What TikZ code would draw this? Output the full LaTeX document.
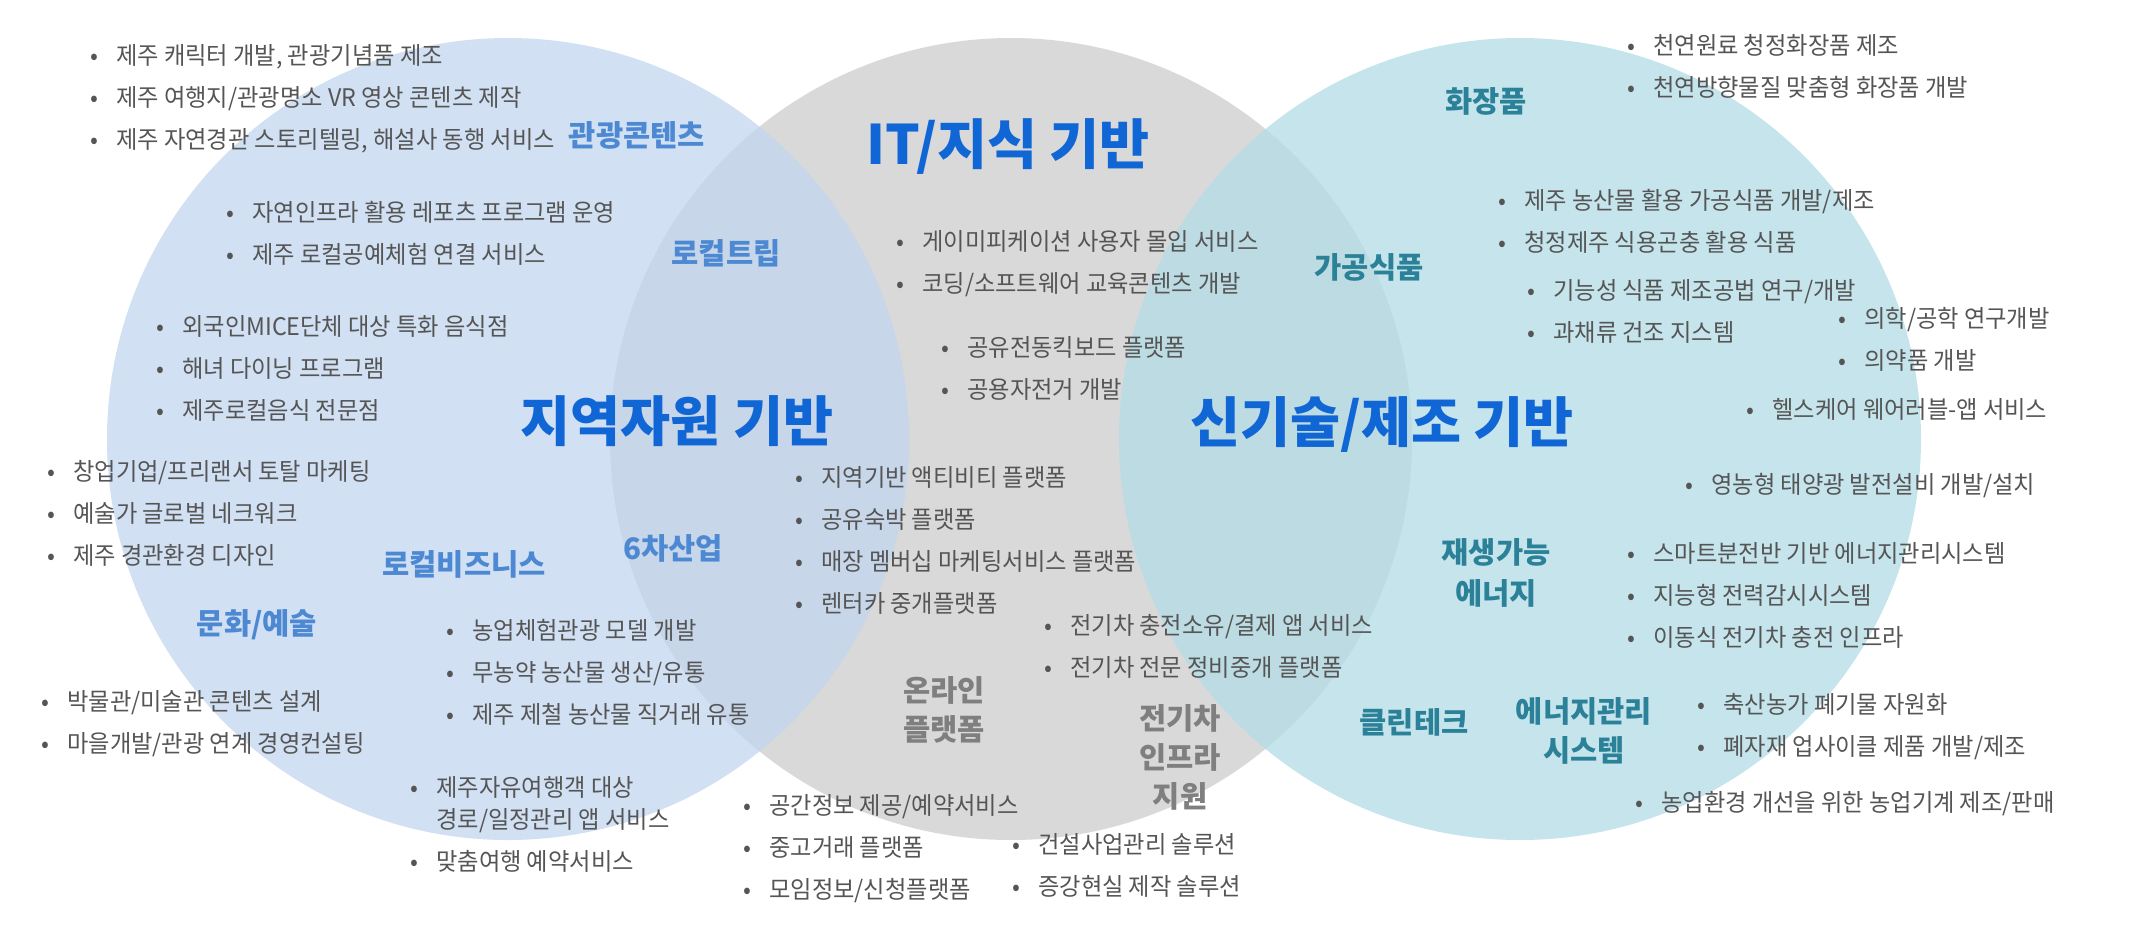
\documentclass[tikz,border=0pt]{standalone}
\usepackage{fontspec}
\setmainfont{Noto Sans CJK KR}
\newfontfamily\krc{Noto Sans CJK KR}[FakeStretch=0.96]
\usepackage{tikz}

\definecolor{ttlblue}{HTML}{1166D6}
\definecolor{subblue}{HTML}{4D88D3}
\definecolor{subgray}{HTML}{7F7F7F}
\definecolor{subteal}{HTML}{2B8197}
\definecolor{txtgray}{HTML}{555555}
\definecolor{leftblue}{HTML}{C2D6EF}
\definecolor{midgray}{HTML}{D9D9D9}
\definecolor{rightteal}{HTML}{B3DCE6}

\newcommand{\bitem}{\textbullet\hspace{9pt}}

\begin{document}
\begin{tikzpicture}[
  x=0.5pt, y=-0.5pt,
  title/.style={font=\bfseries\fontsize{27.2}{32}\selectfont, text=ttlblue, inner sep=0pt},
  sub/.style={font=\bfseries\fontsize{14.8}{19.5}\selectfont, align=center, inner sep=0pt},
  itm/.style={anchor=west, align=left, inner sep=0pt, text=txtgray, font=\krc\fontsize{12.1}{21}\selectfont}
]
\useasboundingbox (0,0) rectangle (2136,944);

% three circles
\fill[midgray] (1011,439) circle[radius=401];
\fill[leftblue, opacity=0.76] (508,439) circle[radius=401];
\fill[rightteal, opacity=0.76] (1520,439) circle[radius=401];

% titles
\node[title] (local) at (677,421) {지역자원 기반};
\node[title] (it) at (1008,147) {IT/지식 기반};
\node[title] (tech) at (1382,425) {신기술/제조 기반};

% left circle
\node[sub, text=subblue] (tour) at (637,135) {관광콘텐츠};
\node[sub, text=subblue] (trip) at (726,253) {로컬트립};
\node[sub, text=subblue] (biz) at (464,564) {로컬비즈니스};
\node[sub, text=subblue] (six) at (673,548) {6차산업};
\node[sub, text=subblue] (art) at (257,625) {문화/예술};

\node[itm] (tourA) at (90,99) {\bitem 제주 캐릭터 개발, 관광기념품 제조\\
  \bitem 제주 여행지/관광명소 VR 영상 콘텐츠 제작\\
  \bitem 제주 자연경관 스토리텔링, 해설사 동행 서비스};
\node[itm] (tripA) at (226,233) {\bitem 자연인프라 활용 레포츠 프로그램 운영\\
  \bitem 제주 로컬공예체험 연결 서비스};
\node[itm] (food) at (156,368) {\bitem 외국인MICE단체 대상 특화 음식점\\
  \bitem 해녀 다이닝 프로그램\\
  \bitem 제주로컬음식 전문점};
\node[itm] (bizA) at (47,513) {\bitem 창업기업/프리랜서 토탈 마케팅\\
  \bitem 예술가 글로벌 네크워크\\
  \bitem 제주 경관환경 디자인};
\node[itm] (farm) at (446,672) {\bitem 농업체험관광 모델 개발\\
  \bitem 무농약 농산물 생산/유통\\
  \bitem 제주 제철 농산물 직거래 유통};
\node[itm] (artA) at (41,724) {\bitem 박물관/미술관 콘텐츠 설계\\
  \bitem 마을개발/관광 연계 경영컨설팅};
\node[itm] (travel) at (410,824) {\bitem 제주자유여행객 대상\\[-5pt]
  \hphantom{\bitem}경로/일정관리 앱 서비스\\
  \bitem 맞춤여행 예약서비스};

% middle circle
\node[sub, text=subgray] (online) at (944,710) {온라인\\플랫폼};
\node[sub, text=subgray] (ev) at (1180,757) {전기차\\인프라\\지원};

\node[itm] (game) at (896,264) {\bitem 게이미피케이션 사용자 몰입 서비스\\
  \bitem 코딩/소프트웨어 교육콘텐츠 개발};
\node[itm] (mobil) at (941,368) {\bitem 공유전동킥보드 플랫폼\\
  \bitem 공용자전거 개발};
\node[itm] (plat) at (795,540) {\bitem 지역기반 액티비티 플랫폼\\
  \bitem 공유숙박 플랫폼\\
  \bitem 매장 멤버십 마케팅서비스 플랫폼\\
  \bitem 렌터카 중개플랫폼};
\node[itm] (evA) at (1044,646) {\bitem 전기차 충전소유/결제 앱 서비스\\
  \bitem 전기차 전문 정비중개 플랫폼};
\node[itm] (space) at (743,849) {\bitem 공간정보 제공/예약서비스\\
  \bitem 중고거래 플랫폼\\
  \bitem 모임정보/신청플랫폼};
\node[itm] (sol) at (1012,865) {\bitem 건설사업관리 솔루션\\
  \bitem 증강현실 제작 솔루션};

% right circle
\node[sub, text=subteal] (cos) at (1486,101) {화장품};
\node[sub, text=subteal] (proc) at (1369,267) {가공식품};
\node[sub, text=subteal] (renew) at (1496,573) {재생가능\\[1pt]에너지};
\node[sub, text=subteal] (clean) at (1414,722) {클린테크};
\node[sub, text=subteal] (ems) at (1584,731) {에너지관리\\시스템};

\node[itm] (cosA) at (1627,66) {\bitem 천연원료 청정화장품 제조\\
  \bitem 천연방향물질 맞춤형 화장품 개발};
\node[itm] (procA) at (1498,221) {\bitem 제주 농산물 활용 가공식품 개발/제조\\
  \bitem 청정제주 식용곤충 활용 식품};
\node[itm] (procB) at (1527,311) {\bitem 기능성 식품 제조공법 연구/개발\\
  \bitem 과채류 건조 지스템};
\node[itm] (med) at (1838,339) {\bitem 의학/공학 연구개발\\
  \bitem 의약품 개발};
\node[itm] (health) at (1746,409) {\bitem 헬스케어 웨어러블-앱 서비스};
\node[itm] (solar) at (1685,486) {\bitem 영농형 태양광 발전설비 개발/설치};
\node[itm] (emsA) at (1627,595) {\bitem 스마트분전반 기반 에너지관리시스템\\
  \bitem 지능형 전력감시시스템\\
  \bitem 이동식 전기차 충전 인프라};
\node[itm] (waste) at (1697,727) {\bitem 축산농가 폐기물 자원화\\
  \bitem 폐자재 업사이클 제품 개발/제조};
\node[itm] (mach) at (1635,804) {\bitem 농업환경 개선을 위한 농업기계 제조/판매};
\end{tikzpicture}
\end{document}
